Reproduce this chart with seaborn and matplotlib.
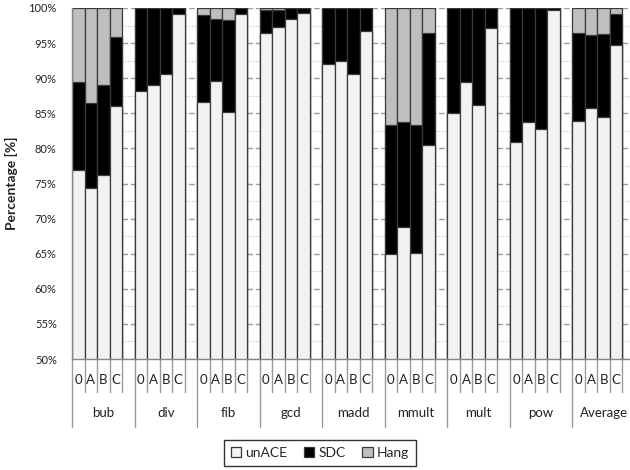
import matplotlib
matplotlib.use("Agg")
import matplotlib.pyplot as plt
import seaborn as sns
import pandas as pd
from matplotlib.patches import Patch
from matplotlib.ticker import MultipleLocator, PercentFormatter

# dados (percentagens)
programas = ["bub", "div", "fib", "gcd", "madd", "mmult", "mult", "pow", "Average"]
variantes = ["0", "A", "B", "C"]

unace = [76.9, 74.4, 76.2, 86.0,
         88.2, 89.0, 90.6, 99.1,
         86.6, 89.6, 85.2, 99.1,
         96.5, 97.3, 98.5, 99.3,
         92.0, 92.5, 90.6, 96.7,
         64.9, 68.8, 65.1, 80.5,
         85.0, 89.4, 86.2, 97.1,
         80.9, 83.7, 82.7, 99.7,
         83.9, 85.7, 84.5, 94.7]
sdc = [12.5, 12.1, 12.8, 9.8,
       11.8, 11.0, 9.4, 0.9,
       12.4, 8.9, 13.1, 0.9,
       3.2, 2.4, 1.5, 0.7,
       8.0, 7.5, 9.4, 3.3,
       18.4, 15.0, 18.2, 16.0,
       15.0, 10.6, 13.8, 2.9,
       19.1, 16.3, 17.3, 0.3,
       12.6, 10.5, 11.8, 4.4]

cores = {"unACE": "#f2f2f2", "SDC": "#000000", "Hang": "#bfbfbf"}
borda = "#3a3a3a"

# tabela com uma linha por barra; cada programa tem um slot vazio no fim
linhas = []
for i, p in enumerate(programas):
    for j, v in enumerate(variantes):
        k = i * 4 + j
        u, s = unace[k], sdc[k]
        h = 100 - u - s
        linhas.append({"slot": f"{p}-{v}", "unACE": u, "SDC": s, "Hang": h})
df = pd.DataFrame(linhas)
df["topo_sdc"] = df["unACE"] + df["SDC"]
df["topo_hang"] = df["topo_sdc"] + df["Hang"]

ordem = []
for p in programas:
    ordem += [f"{p}-{v}" for v in variantes] + [f"{p}-gap"]

sns.set_style("white")
plt.rcParams["font.family"] = ["Lato", "DejaVu Sans"]

fig = plt.figure(figsize=(6.3, 4.7), dpi=100)
ax = fig.add_axes([72 / 630, 1 - 359 / 470, 562.8 / 630, 351 / 470])

# barras empilhadas desenhadas por sobreposição
for col, nome in [("topo_hang", "Hang"), ("topo_sdc", "SDC"), ("unACE", "unACE")]:
    sns.barplot(data=df, x="slot", y=col, order=ordem, color=cores[nome],
                saturation=1, width=1, edgecolor=borda, linewidth=0.9,
                errorbar=None, ax=ax)

ax.set_ylim(50, 100)
ax.set_xlim(-0.5, len(ordem) - 0.5)
ax.yaxis.set_major_locator(MultipleLocator(5))
ax.yaxis.set_minor_locator(MultipleLocator(2.5))
ax.yaxis.set_major_formatter(PercentFormatter(decimals=0))
ax.set_axisbelow(True)
ax.grid(axis="y", which="major", color="#9c9c9c", linestyle=(0, (4, 2)), linewidth=1)
ax.grid(axis="y", which="minor", color="#c0c0c0", linestyle=(0, (1, 1.5)), linewidth=0.8)

for lado in ["top", "right"]:
    ax.spines[lado].set_visible(False)
for lado in ["left", "bottom"]:
    ax.spines[lado].set_color("#868686")
    ax.spines[lado].set_linewidth(1)

ax.tick_params(axis="y", which="major", length=4, width=0.9, color="#868686",
               pad=7, labelsize=8, labelcolor="#222222")
ax.tick_params(axis="y", which="minor", length=0)
ax.set_xticks(range(len(ordem)))
ax.set_xticklabels([])
ax.tick_params(axis="x", length=3, width=0.8, color="#a0a0a0")
ax.set_xlabel("")
ax.set_ylabel("Percentage [%]", fontsize=10, fontweight="bold", color="#222222")
ax.yaxis.set_label_coords(-0.096, 0.5)

# eixo de categorias em dois níveis
trans = ax.get_xaxis_transform()
y_cat, y_grp = -(392 - 359) / 351, -(427 - 359) / 351
for i, p in enumerate(programas):
    base = i * 5
    ax.plot([base - 0.5, base - 0.5], [0, y_grp], transform=trans, color="#9a9a9a",
            linewidth=1, clip_on=False)
    for j in range(1, 5):
        ax.plot([base - 0.5 + j, base - 0.5 + j], [0, y_cat], transform=trans,
                color="#9a9a9a", linewidth=1, clip_on=False)
    for j, v in enumerate(variantes):
        ax.text(base + j, -(379.5 - 359) / 351, v, transform=trans, ha="center",
                va="center", fontsize=9.5, color="#222222")
    ax.text(base + 2, -(413 - 359) / 351, p, transform=trans, ha="center",
            va="center", fontsize=9.5, color="#222222")

handles = [Patch(facecolor=cores[n], edgecolor=borda, linewidth=0.9, label=n)
           for n in ["unACE", "SDC", "Hang"]]
leg = fig.legend(handles=handles, loc="center", bbox_to_anchor=(320 / 630, 1 - 453 / 470),
                 ncol=3, frameon=True, fancybox=False, fontsize=10,
                 handlelength=0.75, handleheight=0.75, handletextpad=0.3,
                 columnspacing=1.2, borderpad=0.5)
leg.get_frame().set_edgecolor("#000000")
leg.get_frame().set_linewidth(1)

fig.savefig("out.png", dpi=100)
